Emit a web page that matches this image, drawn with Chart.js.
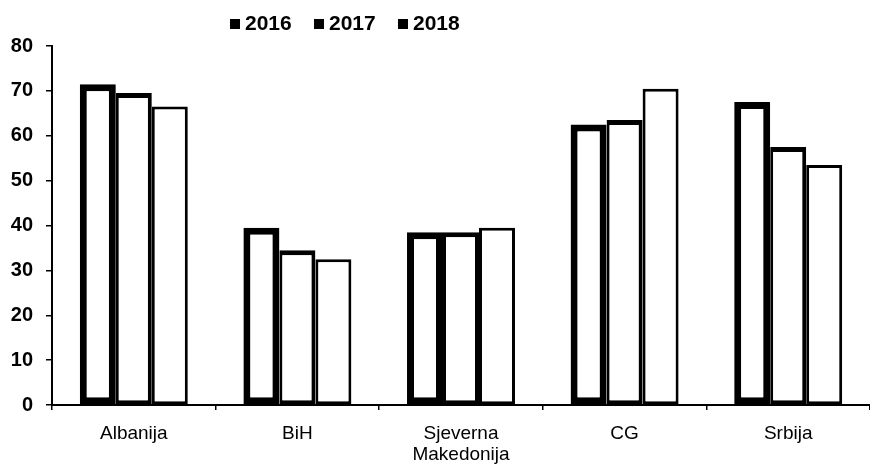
<!DOCTYPE html>
<html>
<head>
<meta charset="utf-8">
<script src="https://cdn.jsdelivr.net/npm/chart.js@4/dist/chart.umd.min.js"></script>
<style>
  html, body { margin: 0; padding: 0; background: #fff; }
  #wrap { width: 870px; height: 473px; position: relative; }
</style>
</head>
<body>
<div id="wrap"><canvas id="myChart"></canvas></div>
<script>
const categories = ['Albanija', 'BiH', ['Sjeverna', 'Makedonija'], 'CG', 'Srbija'];
const years = ['2016', '2017', '2018'];
const values2016 = [71.5, 39.5, 38.5, 62.5, 67.5];
const values2017 = [69.5, 34.5, 38.5, 63.5, 57.5];
const values2018 = [66.5, 32.5, 39.5, 70.5, 53.5];
const yTicks = [0, 10, 20, 30, 40, 50, 60, 70, 80];

// legend drawn by hand so it can sit left of centre like the original
const topLegend = {
  id: 'topLegend',
  afterDraw(chart) {
    const ctx = chart.ctx;
    const xs = [230, 314, 398];
    ctx.save();
    ctx.font = 'bold 21px "Liberation Sans", Arial, sans-serif';
    ctx.textBaseline = 'middle';
    ctx.fillStyle = '#000';
    years.forEach((y, i) => {
      ctx.fillRect(xs[i], 19, 10, 10);
      ctx.fillText(y, xs[i] + 15, 24);
    });
    ctx.restore();
  }
};

const bar = (label, data, bw) => ({
  label: label,
  data: data,
  backgroundColor: '#fff',
  borderColor: '#000',
  borderWidth: bw,
  borderSkipped: false,
});

new Chart(document.getElementById('myChart').getContext('2d'), {
  type: 'bar',
  data: {
    labels: categories,
    datasets: [
      bar(years[0], values2016, 7),
      bar(years[1], values2017, {top: 5, left: 3, right: 4, bottom: 4}),
      bar(years[2], values2018, 3),
    ]
  },
  options: {
    responsive: true,
    maintainAspectRatio: false,
    animation: false,
    layout: { padding: { top: 46, right: -8, left: 0, bottom: 0 } },
    datasets: { bar: { categoryPercentage: 0.66, barPercentage: 1.0 } },
    plugins: {
      legend: { display: false },
      tooltip: { enabled: false },
    },
    scales: {
      x: {
        grid: { display: true, drawOnChartArea: false, tickLength: 5, color: '#000', lineWidth: 1.5 },
        border: { display: true, color: '#000', width: 2 },
        ticks: {
          color: '#000',
          padding: 13,
          maxRotation: 0,
          font: { family: '"Liberation Sans", Arial, sans-serif', size: 19, lineHeight: 1.1 },
        },
        afterFit: (scale) => { scale.height = 473 - 405; },
      },
      y: {
        min: 0,
        max: 80,
        afterBuildTicks: (scale) => { scale.ticks = yTicks.map(v => ({ value: v })); },
        grid: { display: true, drawOnChartArea: false, tickLength: 6, color: '#000', lineWidth: 1.5 },
        border: { display: true, color: '#000', width: 2 },
        ticks: {
          color: '#000',
          padding: 13,
          font: { family: '"Liberation Sans", Arial, sans-serif', size: 20, weight: 'bold' },
        },
        afterFit: (scale) => { scale.width = 52; },
      }
    }
  },
  plugins: [topLegend]
});
</script>
</body>
</html>
